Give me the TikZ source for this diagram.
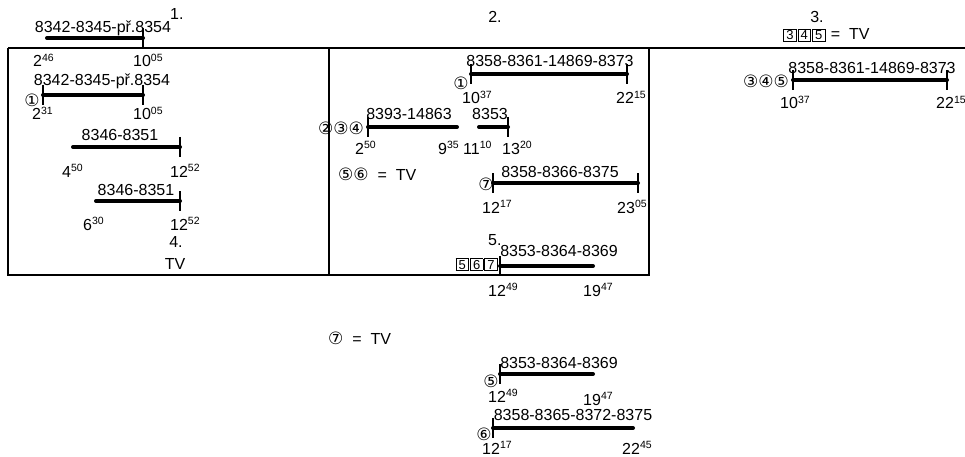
\documentclass[tikz,border=0pt]{standalone}
\usepackage{fontspec}
\setmainfont{Liberation Sans}
\newfontfamily\circfont{DejaVu Sans}
\usepackage{tkz-euclide}
\newcommand\hm[2]{#1\raisebox{5.5pt}{\fontsize{10.5}{10.5}\selectfont#2}}
\newcommand\bx[1]{\fbox{\kern1.5pt\fontsize{13}{13}\selectfont#1\kern1.5pt}\kern1pt}
\newcommand\cc[1]{{\circfont\fontsize{17}{19}\selectfont#1}}
\setlength\fboxsep{0.8pt}
\setlength\fboxrule{0.8pt}

\begin{document}
\begin{tikzpicture}[x=1pt,y=-1pt,font=\fontsize{16}{19}\selectfont,
  bar/.style={line width=4pt,line cap=round},
  tick/.style={line width=1.2pt},
  frame/.style={line width=1.4pt},
  lbl/.style={anchor=base,inner sep=0pt},
  lw/.style={anchor=base west,inner sep=0pt},
  cir/.style={inner sep=0pt,font=\circfont\fontsize{17}{19}\selectfont}]
\useasboundingbox (0,0) rectangle (965,457);
\tkzDefPoints{8/48/F1,965/48/F2,8/275/F3,649/275/F4,329/48/F5,329/275/F6,649/48/F7}
\tkzDefPoints{47/38/a1,143/38/b1,43/95/a2,143/95/b2,73/147/a3,180/147/b3,96/201/a4,180/201/b4}
\tkzDefPoints{471/74/a5,627/74/b5,368/127/a6,457/127/b6,479/127/a7,508/127/b7,493/183/a8,638/183/b8,500/266/a9,593/266/b9}
\tkzDefPoints{793/80/a10,947/80/b10,500/374/a11,593/374/b11,493/428/a12,633/428/b12}
\draw[frame](F1)--(F2)(F1)--(F3)--(F4)--(F7)(F5)--(F6);
\draw[bar](a1)--(b1)(a2)--(b2)(a3)--(b3)(a4)--(b4)(a5)--(b5)(a6)--(b6)(a7)--(b7)(a8)--(b8)(a9)--(b9)(a10)--(b10)(a11)--(b11)(a12)--(b12);
\foreach \p in {b1,a2,b2,b3,b4,a5,b5,a6,b7,a8,b8,a9,a10,b10,a11,a12}
  \draw[tick]([yshift=10pt]\p)--([yshift=-10pt]\p);
\node[lw] (n1) at (170,20) {1.};
\node[lbl] (n2) at (495,23) {2.};
\node[lbl] (n3) at (817,23) {3.};
\node[lbl] (t1) at (103,33) {8342-8345-př.8354};
\node[lw] (h1) at (33,67) {\hm{2}{46}};
\node[lw] (h2) at (133,67) {\hm{10}{05}};
\node[lbl] (t2) at (102,86) {8342-8345-př.8354};
\node[cir] (c1) at (32,100) {①};
\node[lw] (h3) at (32,120) {\hm{2}{31}};
\node[lw] (h4) at (133,120) {\hm{10}{05}};
\node[lbl] (t3) at (120,141) {8346-8351};
\node[lw] (h5) at (62,177) {\hm{4}{50}};
\node[lw] (h6) at (170,177) {\hm{12}{52}};
\node[lbl] (t4) at (136,195) {8346-8351};
\node[lw] (h7) at (83,230) {\hm{6}{30}};
\node[lw] (h8) at (170,230) {\hm{12}{52}};
\node[lbl] (n4) at (176,247) {4.};
\node[lbl] (tv1) at (175,269) {TV};
\node[lbl] (t5) at (550,67) {8358-8361-14869-8373};
\node[cir] (c2) at (461,83) {①};
\node[lw] (h9) at (462,104) {\hm{10}{37}};
\node[lw] (h10) at (616,104) {\hm{22}{15}};
\node[cir] (c3) at (341,128) {②③④};
\node[lbl] (t6) at (409,120) {8393-14863};
\node[lbl] (t7) at (490,120) {8353};
\node[lw] (h11) at (355,154) {\hm{2}{50}};
\node[lw] (h12) at (438,154) {\hm{9}{35}};
\node[lw] (h13) at (463,154) {\hm{11}{10}};
\node[lw] (h14) at (502,154) {\hm{13}{20}};
\node[lw] (e1) at (338,180) {\cc{⑤⑥}~~=~~TV};
\node[lbl] (t8) at (560,177) {8358-8366-8375};
\node[cir] (c4) at (486,184) {⑦};
\node[lw] (h15) at (482,213) {\hm{12}{17}};
\node[lw] (h16) at (617,213) {\hm{23}{05}};
\node[lw] (n5) at (488,245) {5.};
\node[lbl] (t9) at (559,256) {8353-8364-8369};
\node[anchor=base east,inner sep=0pt] (b567) at (499,269) {\bx5\bx6\bx7};
\node[lw] (h17) at (488,296) {\hm{12}{49}};
\node[lw] (h18) at (583,296) {\hm{19}{47}};
\node[lw] (e2) at (783,40) {\bx3\bx4\bx5~=~~TV};
\node[lbl] (t10) at (872,74) {8358-8361-14869-8373};
\node[cir] (c5) at (766,81) {③④⑤};
\node[lw] (h19) at (780,109) {\hm{10}{37}};
\node[lw] (h20) at (936,109) {\hm{22}{15}};
\node[lw] (e3) at (328,344) {\cc{⑦}~~=~~TV};
\node[lbl] (t11) at (559,368) {8353-8364-8369};
\node[cir] (c6) at (491,381) {⑤};
\node[lw] (h21) at (488,402) {\hm{12}{49}};
\node[lw] (h22) at (583,405) {\hm{19}{47}};
\node[lbl] (t12) at (573,420) {8358-8365-8372-8375};
\node[cir] (c7) at (484,434) {⑥};
\node[lw] (h23) at (482,454) {\hm{12}{17}};
\node[lw] (h24) at (622,454) {\hm{22}{45}};
\end{tikzpicture}
\end{document}
